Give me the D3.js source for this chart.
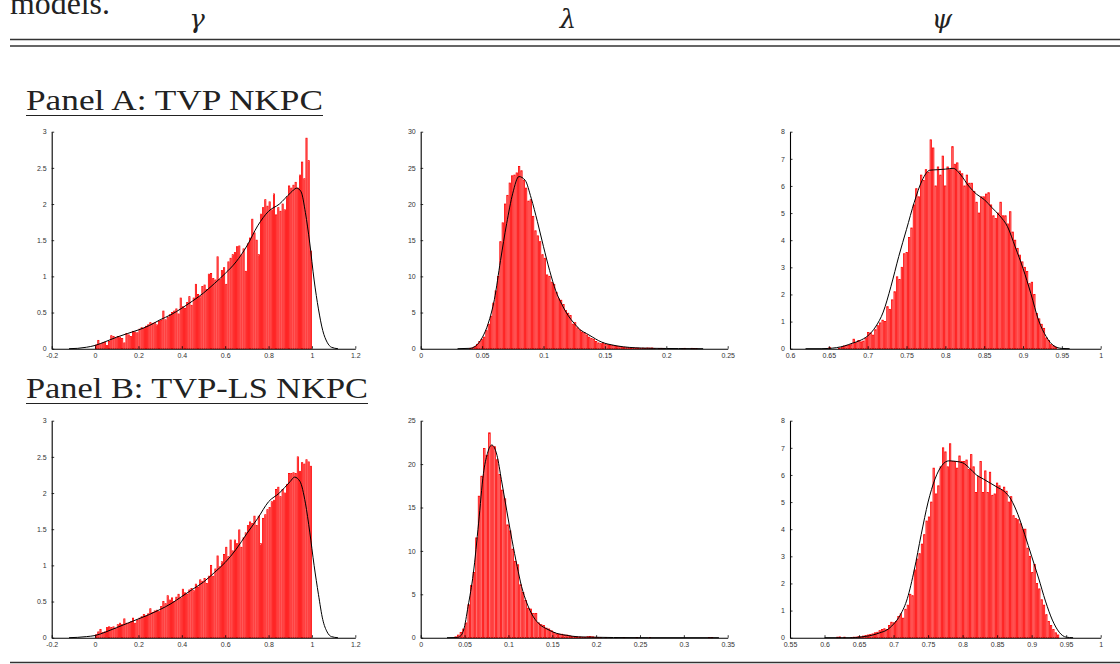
<!DOCTYPE html>
<html>
<head>
<meta charset="utf-8">
<script src="https://cdn.jsdelivr.net/npm/d3@7"></script>
<style>
  body { margin: 0; background: #fff; }
  svg { display: block; }
</style>
</head>
<body>
<svg id="fig" width="1120" height="664"></svg>
<script>
// ---------- Posterior draws: histogram heights (density scale) ----------
// gamma, TVP NKPC: 100 bins on [0, 1]
const gammaA = [
  0.05, 0.115, 0.07, 0.08, 0.09, 0.045, 0.1, 0.18, 0.17, 0.15,
  0.17, 0.16, 0.14, 0.08, 0.21, 0.19, 0.17, 0.24, 0.23, 0.22,
  0.27, 0.29, 0.28, 0.31, 0.33, 0.36, 0.35, 0.36, 0.33, 0.38,
  0.39, 0.52, 0.4, 0.43, 0.47, 0.5, 0.52, 0.55, 0.48, 0.7,
  0.58, 0.56, 0.64, 0.72, 0.6, 0.7, 0.89, 0.75, 0.72, 0.86,
  0.88, 0.82, 1.03, 1.04, 0.97, 0.95, 1.27, 0.96, 1.08, 1.12,
  0.89, 1.2, 1.25, 1.3, 1.33, 1.41, 1.42, 1.3, 1.38, 1.07,
  1.45, 1.53, 1.79, 1.6, 1.5, 1.3, 1.86, 1.95, 2.06, 1.97,
  2.03, 1.92, 2.14, 1.85, 1.95, 1.9, 2.0, 1.92, 2.1, 2.25,
  2.22, 2.26, 2.3, 2.22, 2.4, 2.58, 2.35, 2.91, 2.6, 1.35
];
const gammaABin = [0, 0.01];          // first edge, bin width

// gamma, TVP-LS NKPC
const gammaB = [
  0.04, 0.08, 0.115, 0.07, 0.08, 0.14, 0.15, 0.14, 0.15, 0.13,
  0.18, 0.2, 0.18, 0.26, 0.2, 0.2, 0.22, 0.27, 0.2, 0.24,
  0.27, 0.29, 0.32, 0.3, 0.33, 0.4, 0.35, 0.37, 0.38, 0.36,
  0.43, 0.5, 0.47, 0.58, 0.52, 0.55, 0.5, 0.56, 0.6, 0.55,
  0.67, 0.62, 0.6, 0.66, 0.68, 0.65, 0.74, 0.7, 0.8, 0.78,
  0.82, 0.75, 0.85, 1.0, 0.85, 0.95, 1.13, 0.98, 1.05, 1.15,
  1.25, 1.12, 1.35, 1.2, 1.35, 1.3, 1.49, 1.25, 1.38, 1.45,
  1.55, 1.6, 1.58, 1.68, 1.55, 1.68, 1.3, 1.65, 1.7, 1.77,
  1.8, 1.88, 1.9, 2.05, 2.08, 1.95, 2.05, 2.0, 2.12, 2.27,
  2.27, 2.28, 2.27, 2.5, 2.3, 2.42, 2.4, 2.46, 2.43, 2.37
];
const gammaBBin = [0, 0.01];

// lambda, TVP NKPC
const lambdaA = [
  0, 0, 0.05, 0.1, 0.3, 0.6, 1.0, 1.3, 1.6, 2.5,
  3.4, 4.5, 6.3, 8.0, 10.0, 14.8, 17.4, 20.0, 21.2, 22.9,
  23.9, 24.0, 24.3, 25.2, 24.6, 23.3, 22.2, 20.4, 20.6, 18.3,
  16.3, 15.6, 14.8, 13.0, 12.5, 10.2, 10.0, 9.2, 8.9, 7.8,
  6.9, 6.7, 6.1, 5.3, 4.9, 4.6, 3.4, 3.6, 2.9, 2.6,
  2.3, 2.2, 1.9, 1.6, 1.4, 1.3, 1.0, 0.8, 0.7, 0.8,
  0.6, 0.55, 0.5, 0.45, 0.4, 0.35, 0.3, 0.2, 0.2, 0.15,
  0.15, 0.1, 0.1, 0.1, 0.08, 0.05, 0.08, 0.05, 0.1, 0.08,
  0.1, 0.03, 0, 0.03, 0.05, 0.02, 0, 0, 0, 0,
  0, 0, 0, 0.03, 0.05, 0, 0, 0.05, 0.03, 0.02
];
const lambdaABin = [0.0355, 0.0019];

// lambda, TVP-LS NKPC
const lambdaB = [
  0.1, 0.3, 0.6, 1.0, 1.7, 3.8, 6.0, 7.5, 11.5, 16.3,
  18.6, 21.8, 21.0, 23.6, 22.1, 22.0, 20.5, 18.8, 17.0, 16.0,
  13.0, 12.3, 10.2, 8.8, 8.4, 6.1, 5.2, 4.3, 3.4, 3.3,
  2.8, 2.8, 1.7, 1.5, 1.4, 1.1, 1.0, 0.8, 0.6, 0.45,
  0.4, 0.4, 0.3, 0.3, 0.2, 0.15, 0.1, 0.1, 0.08, 0.05,
  0.05, 0.12, 0.15, 0.1, 0.05, 0.03, 0.02, 0, 0.02, 0,
  0.02, 0, 0.02, 0, 0, 0.02, 0, 0, 0, 0,
  0.02, 0, 0, 0, 0, 0.02, 0, 0, 0, 0,
  0, 0, 0, 0, 0, 0, 0, 0, 0, 0,
  0, 0, 0, 0, 0, 0, 0, 0, 0.02, 0.02
];
const lambdaBBin = [0.0385, 0.00295];

// psi, TVP NKPC
const psiA = [
  0.05, 0, 0, 0, 0.02, 0.05, 0.1, 0.12, 0.13, 0.15,
  0.35, 0.22, 0.3, 0.25, 0.28, 0.4, 0.6, 0.58, 0.5, 0.7,
  0.85, 0.95, 1.05, 1.0, 1.55, 1.45, 1.8, 2.1, 2.65, 2.55,
  3.0, 3.5, 3.55, 4.1, 4.45, 5.3, 5.9, 5.6, 6.4, 6.2,
  6.6, 6.5, 7.7, 7.4, 6.0, 6.7, 6.4, 7.1, 6.0, 6.7,
  6.6, 7.45, 6.8, 6.85, 6.55, 6.45, 6.0, 6.4, 6.1, 6.1,
  5.8, 5.4, 5.0, 5.6, 5.6, 5.7, 5.75, 5.3, 4.9, 4.8,
  5.0, 5.4, 4.9, 4.9, 4.6, 5.05, 4.3, 4.0, 3.7, 3.45,
  3.2, 3.0, 2.85, 2.4, 2.45, 2.0, 1.3, 1.1, 0.9, 0.75,
  0.4, 0.3, 0.15, 0.1, 0.05
];
const psiABin = [0.6495, 0.0031];

// psi, TVP-LS NKPC
const psiB = [
  0, 0, 0, 0, 0, 0.02, 0.03, 0, 0.02, 0,
  0, 0.01, 0.02, 0.02, 0.04, 0.03, 0.06, 0.08, 0.1, 0.12,
  0.14, 0.18, 0.2, 0.26, 0.3, 0.33, 0.3, 0.45, 0.57, 0.55,
  0.6, 0.78, 0.88, 0.72, 1.05, 1.2, 1.6, 1.55, 2.5, 2.9,
  3.1, 3.45, 3.8, 4.3, 4.45, 5.0, 6.25, 5.3, 5.6, 6.3,
  7.0, 6.85, 6.3, 7.15, 6.5, 6.5, 6.25, 6.7, 6.5, 6.5,
  6.55, 6.2, 6.75, 6.3, 5.35, 5.95, 6.5, 5.35, 6.15, 5.35,
  6.1, 5.25, 5.3, 5.7, 5.6, 5.45, 5.55, 5.4, 5.0, 5.2,
  4.5, 4.4, 4.35, 4.2, 4.0, 4.0, 3.3, 3.0, 2.4, 2.7,
  2.0, 1.8, 1.4, 1.2, 0.85, 0.6, 0.45, 0.3, 0.18, 0.1
];
const psiBBin = [0.6, 0.0034];

// ---------- Kernel density estimates, [x, density] ----------
const gammaAKde = [
  [-0.12, 0], [-0.08, 0.005], [-0.04, 0.02], [0, 0.045], [0.05, 0.1], [0.1, 0.16],
  [0.15, 0.21], [0.2, 0.26], [0.25, 0.32], [0.3, 0.4], [0.35, 0.47], [0.4, 0.56],
  [0.45, 0.66], [0.5, 0.77], [0.55, 0.9], [0.6, 1.04], [0.65, 1.2], [0.7, 1.42],
  [0.75, 1.7], [0.8, 1.9], [0.85, 2.0], [0.9, 2.15], [0.93, 2.22], [0.95, 2.17],
  [0.97, 1.88], [0.99, 1.46], [1.01, 0.95], [1.03, 0.55], [1.05, 0.25], [1.07, 0.09],
  [1.09, 0.02], [1.12, 0]
];
const gammaBKde = [
  [-0.12, 0], [-0.08, 0.005], [-0.04, 0.015], [0, 0.03], [0.05, 0.08], [0.1, 0.14],
  [0.15, 0.2], [0.2, 0.26], [0.25, 0.32], [0.3, 0.39], [0.35, 0.47], [0.4, 0.57],
  [0.45, 0.67], [0.5, 0.77], [0.55, 0.9], [0.6, 1.04], [0.65, 1.22], [0.7, 1.44],
  [0.75, 1.65], [0.8, 1.88], [0.85, 2.0], [0.9, 2.16], [0.92, 2.22], [0.945, 2.16],
  [0.97, 1.86], [0.99, 1.46], [1.01, 1.0], [1.03, 0.6], [1.05, 0.25], [1.07, 0.08],
  [1.09, 0.015], [1.12, 0]
];
const lambdaAKde = [
  [0.03, 0], [0.04, 0.05], [0.045, 0.4], [0.05, 1.5], [0.055, 3.5], [0.06, 6.8],
  [0.065, 12.2], [0.07, 17.3], [0.075, 21.5], [0.08, 23.8], [0.085, 23.3], [0.09, 20.8],
  [0.095, 17.6], [0.1, 14.1], [0.105, 10.8], [0.11, 8.0], [0.115, 6.1], [0.12, 4.6],
  [0.125, 3.5], [0.13, 2.6], [0.135, 2.1], [0.14, 1.6], [0.145, 1.1], [0.15, 0.75],
  [0.155, 0.55], [0.16, 0.38], [0.17, 0.18], [0.18, 0.09], [0.19, 0.05], [0.2, 0.03],
  [0.21, 0.02], [0.23, 0]
];
const lambdaBKde = [
  [0.03, 0], [0.04, 0.02], [0.044, 0.1], [0.049, 0.9], [0.054, 3.6], [0.06, 7.4],
  [0.066, 13.2], [0.0715, 18.9], [0.076, 21.2], [0.081, 22.2], [0.087, 21.0], [0.092, 18.2],
  [0.098, 14.7], [0.104, 11.3], [0.11, 8.2], [0.115, 5.9], [0.121, 4.0], [0.1285, 2.4],
  [0.136, 1.5], [0.144, 1.0], [0.155, 0.5], [0.1665, 0.27], [0.18, 0.1], [0.2, 0.05],
  [0.22, 0.02], [0.26, 0.005], [0.34, 0]
];
const psiAKde = [
  [0.62, 0], [0.64, 0], [0.65, 0.01], [0.66, 0.04], [0.67, 0.1], [0.68, 0.2],
  [0.69, 0.3], [0.7, 0.47], [0.71, 0.8], [0.72, 1.35], [0.73, 2.3], [0.74, 3.4],
  [0.75, 4.4], [0.76, 5.4], [0.77, 6.2], [0.78, 6.58], [0.79, 6.6], [0.8, 6.62],
  [0.81, 6.65], [0.82, 6.4], [0.83, 6.0], [0.84, 5.7], [0.85, 5.5], [0.86, 5.2],
  [0.87, 4.9], [0.88, 4.5], [0.89, 3.75], [0.9, 2.96], [0.91, 2.04], [0.92, 1.05],
  [0.93, 0.44], [0.94, 0.1], [0.95, 0.01], [0.96, 0]
];
const psiBKde = [
  [0.6, 0], [0.64, 0], [0.65, 0.02], [0.66, 0.05], [0.67, 0.1], [0.68, 0.18],
  [0.69, 0.28], [0.7, 0.5], [0.71, 0.85], [0.72, 1.45], [0.73, 2.5], [0.74, 3.8],
  [0.75, 5.0], [0.76, 5.85], [0.77, 6.35], [0.78, 6.52], [0.79, 6.5], [0.8, 6.45],
  [0.81, 6.25], [0.82, 6.0], [0.83, 5.85], [0.84, 5.7], [0.85, 5.55], [0.86, 5.4],
  [0.87, 5.1], [0.88, 4.55], [0.89, 3.8], [0.9, 3.0], [0.91, 2.2], [0.92, 1.35],
  [0.93, 0.65], [0.94, 0.2], [0.95, 0.02], [0.96, 0]
];

// ---------- Tick values ----------
const gammaXTicks = [-0.2, 0, 0.2, 0.4, 0.6, 0.8, 1, 1.2];
const gammaYTicks = [0, 0.5, 1, 1.5, 2, 2.5, 3];
const lambdaAXTicks = [0, 0.05, 0.1, 0.15, 0.2, 0.25];
const lambdaAYTicks = [0, 5, 10, 15, 20, 25, 30];
const lambdaBXTicks = [0, 0.05, 0.1, 0.15, 0.2, 0.25, 0.3, 0.35];
const lambdaBYTicks = [0, 5, 10, 15, 20, 25];
const psiAXTicks = [0.6, 0.65, 0.7, 0.75, 0.8, 0.85, 0.9, 0.95, 1];
const psiBXTicks = [0.55, 0.6, 0.65, 0.7, 0.75, 0.8, 0.85, 0.9, 0.95, 1];
const psiYTicks = [0, 1, 2, 3, 4, 5, 6, 7, 8];

// ---------- Text ----------
const paramLabels = ["\u03B3", "\u03BB", "\u03C8"];
const panelTitles = ["Panel A: TVP NKPC", "Panel B: TVP-LS NKPC"];
const captionTail = "models.";

// ---------- Layout ----------
const colX = [[51.7, 355.3], [420.7, 727.7], [790, 1100.7]];
const rowY = [[131.7, 348.7], [420.7, 637.7]];

const svg = d3.select("#fig");
const serif = "'Liberation Serif', 'DejaVu Serif', serif";
const sans = "'Liberation Sans', Arial, sans-serif";

// Caption fragment and the table header
svg.append("text").attr("x", 10).attr("y", 14)
  .attr("font-family", serif).attr("font-size", 31)
  .attr("textLength", 100).attr("lengthAdjust", "spacingAndGlyphs")
  .attr("fill", "#222").text(captionTail);

const labelX = [197, 568, 942];
paramLabels.forEach((t, i) => {
  svg.append("text").attr("x", labelX[i]).attr("y", 28)
    .attr("text-anchor", "middle")
    .attr("font-family", "'DejaVu Serif', serif").attr("font-style", "italic").attr("font-size", 26)
    .attr("fill", "#222").text(t);
});

[39.5, 46].forEach(y => {
  svg.append("line").attr("x1", 10).attr("x2", 1120).attr("y1", y).attr("y2", y)
    .attr("stroke", "#333").attr("stroke-width", 1.3);
});
svg.append("line").attr("x1", 10).attr("x2", 1120).attr("y1", 662.5).attr("y2", 662.5)
  .attr("stroke", "#333").attr("stroke-width", 1.3);

const titleSpec = [
  { y: 110, uy: 115.5, w: 297 },
  { y: 398, uy: 403.5, w: 342 }
];
panelTitles.forEach((t, i) => {
  const s = titleSpec[i];
  svg.append("text").attr("x", 26).attr("y", s.y)
    .attr("font-family", serif).attr("font-size", 30)
    .attr("textLength", s.w).attr("lengthAdjust", "spacingAndGlyphs")
    .attr("fill", "#222").text(t);
  svg.append("line").attr("x1", 26).attr("x2", 26 + s.w)
    .attr("y1", s.uy).attr("y2", s.uy)
    .attr("stroke", "#222").attr("stroke-width", 1.2);
});

// ---------- Panels ----------
const panels = [
  { r: 0, c: 0, h: gammaA, bin: gammaABin, kde: gammaAKde, xt: gammaXTicks, yt: gammaYTicks },
  { r: 0, c: 1, h: lambdaA, bin: lambdaABin, kde: lambdaAKde, xt: lambdaAXTicks, yt: lambdaAYTicks },
  { r: 0, c: 2, h: psiA, bin: psiABin, kde: psiAKde, xt: psiAXTicks, yt: psiYTicks },
  { r: 1, c: 0, h: gammaB, bin: gammaBBin, kde: gammaBKde, xt: gammaXTicks, yt: gammaYTicks },
  { r: 1, c: 1, h: lambdaB, bin: lambdaBBin, kde: lambdaBKde, xt: lambdaBXTicks, yt: lambdaBYTicks },
  { r: 1, c: 2, h: psiB, bin: psiBBin, kde: psiBKde, xt: psiBXTicks, yt: psiYTicks }
];

const fmt = v => String(+v.toFixed(3));

panels.forEach(p => {
  const x = d3.scaleLinear().domain([p.xt[0], p.xt[p.xt.length - 1]]).range(colX[p.c]);
  const y = d3.scaleLinear().domain([0, p.yt[p.yt.length - 1]]).range([rowY[p.r][1], rowY[p.r][0]]);
  const g = svg.append("g");

  // histogram bars: red outline, translucent red face, thin white seam between bins
  const [b0, bw] = p.bin;
  g.append("g").selectAll("rect")
    .data(p.h.map((v, i) => ({ lo: b0 + i * bw, hi: b0 + (i + 1) * bw, v })).filter(d => d.v > 0))
    .join("rect")
    .attr("x", d => x(d.lo) + 0.5)
    .attr("width", d => Math.max(0.4, x(d.hi) - x(d.lo) - 1.0))
    .attr("y", d => y(d.v))
    .attr("height", d => y(0) - y(d.v))
    .attr("fill", "rgba(255,40,40,0.55)")
    .attr("stroke", "#ff0000")
    .attr("stroke-width", 0.8);

  // density curve
  g.append("path")
    .datum(p.kde)
    .attr("d", d3.line().x(d => x(d[0])).y(d => y(d[1])).curve(d3.curveMonotoneX))
    .attr("fill", "none").attr("stroke", "#000").attr("stroke-width", 1);

  // axes
  const xa = g.append("g").attr("transform", `translate(0,${y(0)})`)
    .call(d3.axisBottom(x).tickValues(p.xt).tickFormat(fmt).tickSizeInner(-2.5).tickSizeOuter(0).tickPadding(4));
  const ya = g.append("g").attr("transform", `translate(${x(p.xt[0])},0)`)
    .call(d3.axisLeft(y).tickValues(p.yt).tickFormat(fmt).tickSizeInner(-2.5).tickSizeOuter(0).tickPadding(5));
  [xa, ya].forEach(a => {
    a.select(".domain").attr("stroke", "#000").attr("stroke-width", 1.1);
    a.selectAll(".tick line").attr("stroke", "#000").attr("stroke-width", 0.8);
    a.selectAll(".tick text").attr("font-family", sans).attr("font-size", 7).attr("fill", "#333");
  });
});
</script>
</body>
</html>
